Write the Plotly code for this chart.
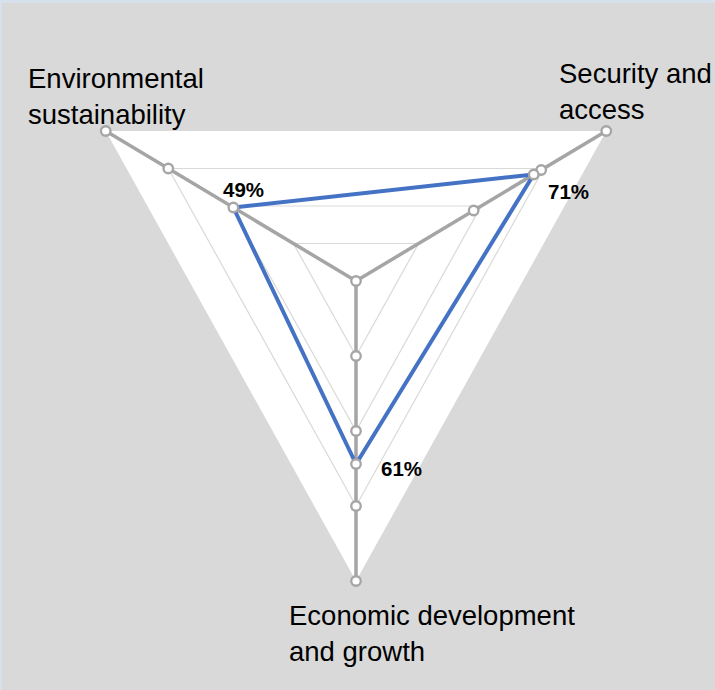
import math
import plotly.graph_objects as go

# Radar axes (clockwise from upper-left) and their direction on the page
categories = ["Environmental sustainability", "Security and access", "Economic development and growth"]
category_lines = [["Environmental", "sustainability"], ["Security and", "access"], ["Economic development", "and growth"]]
axis_angles = [150, 30, 270]

# Scores of the assessed profile (percent)
scores = [49, 71, 61]
score_text = ["49%", "71%", "61%"]

# Reference points marked along each spoke (percent)
env_marks = [100, 75, 49]
sec_marks = [100, 74, 71, 47]
eco_marks = [100, 75, 61, 50, 25]
centre_mark = [0]

ring_levels = [25, 50, 75]
outer_level = 100

BLUE = "#4472c4"
SPOKE = "#a5a5a5"
GRID = "#d9d9d9"
BG = "#d9d9d9"
FONT = "Liberation Sans, Arial, sans-serif"
W, H = 715, 690


def polar_xy(r, angle_deg):
    a = math.radians(angle_deg)
    return r * math.cos(a), r * math.sin(a)


def ring(level):
    pts = [polar_xy(level, a) for a in axis_angles]
    pts.append(pts[0])
    return [p[0] for p in pts], [p[1] for p in pts]


fig = go.Figure()

# white plot area bounded by the outer ring
ox, oy = ring(outer_level)
fig.add_trace(go.Scatter(x=ox, y=oy, mode="lines", fill="toself", fillcolor="white",
                         line=dict(width=0, color="white"), hoverinfo="skip"))

# inner grid rings
for lvl in ring_levels:
    gx, gy = ring(lvl)
    fig.add_trace(go.Scatter(x=gx, y=gy, mode="lines", line=dict(color=GRID, width=1.2),
                             hoverinfo="skip"))

# spokes from the centre to each axis end
sx, sy = [], []
for a in axis_angles:
    x0, y0 = polar_xy(0, a)
    x1, y1 = polar_xy(outer_level, a)
    sx += [x0, x1, None]
    sy += [y0, y1, None]
fig.add_trace(go.Scatter(x=sx, y=sy, mode="lines", line=dict(color=SPOKE, width=3.5),
                         hoverinfo="skip"))

# score polygon
px_, py_ = [], []
for v, a in zip(scores, axis_angles):
    x, y = polar_xy(v, a)
    px_.append(x)
    py_.append(y)
fig.add_trace(go.Scatter(x=px_ + px_[:1], y=py_ + py_[:1], mode="lines",
                         line=dict(color=BLUE, width=4), hoverinfo="skip"))

# hollow markers along the spokes
mx, my = [], []
for marks, a in zip([env_marks, sec_marks, eco_marks], axis_angles):
    for v in marks:
        x, y = polar_xy(v, a)
        mx.append(x)
        my.append(y)
for v in centre_mark:
    x, y = polar_xy(v, 0)
    mx.append(x)
    my.append(y)
fig.add_trace(go.Scatter(x=mx, y=my, mode="markers",
                         marker=dict(size=9.5, color="white", line=dict(color=SPOKE, width=2.3)),
                         hoverinfo="skip"))

annotations = []
# score labels next to the score points
label_shift = [(10, 18), (35, -17), (45, -4)]
for v, a, t, (dx, dy) in zip(scores, axis_angles, score_text, label_shift):
    x, y = polar_xy(v, a)
    annotations.append(dict(x=x, y=y, xref="x", yref="y", text=t, showarrow=False,
                            xanchor="center", yanchor="middle", xshift=dx, yshift=dy,
                            font=dict(family=FONT, size=20.5, color="black", weight="bold")))

# category names
cat_pos = [(26.5, 62), (557.5, 57), (287.5, 599)]
for lines, (lx, ly) in zip(category_lines, cat_pos):
    annotations.append(dict(x=lx / W, y=1 - ly / H, xref="paper", yref="paper",
                            text="<br>".join(lines), showarrow=False, align="left",
                            xanchor="left", yanchor="top", borderpad=0,
                            font=dict(family=FONT, size=27.5, color="black")))

# pixel scale of the drawing: 2.89 px per unit across, 3.0 px per unit down
cx, cy, kx, ky = 356, 281, 2.89, 3.0
fig.update_layout(
    width=W, height=H,
    margin=dict(l=0, r=0, t=0, b=0),
    paper_bgcolor=BG, plot_bgcolor=BG,
    showlegend=False,
    xaxis=dict(visible=False, range=[-cx / kx, (W - cx) / kx], fixedrange=True),
    yaxis=dict(visible=False, range=[-(H - cy) / ky, cy / ky], fixedrange=True),
    annotations=annotations,
    shapes=[
        dict(type="rect", xref="paper", yref="paper", x0=0, x1=1, y0=1 - 3 / H, y1=1,
             fillcolor="#d7e1ee", line=dict(width=0), layer="above"),
        dict(type="rect", xref="paper", yref="paper", x0=0, x1=2 / W, y0=0, y1=1,
             fillcolor="#d7e1ee", line=dict(width=0), layer="above"),
    ],
)

fig.write_html("out.html")
